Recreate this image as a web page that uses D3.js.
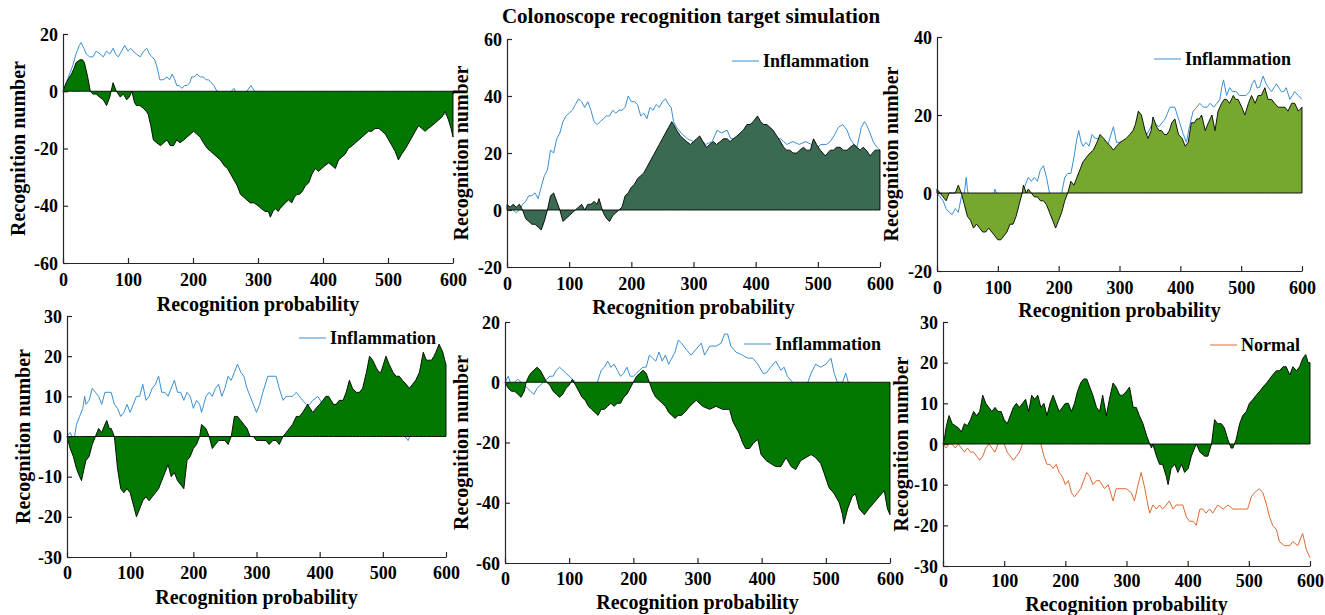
<!DOCTYPE html>
<html>
<head>
<meta charset="utf-8">
<script src="https://cdn.jsdelivr.net/npm/d3@7"></script>
<style>
body { margin: 0; background: #fff; }
svg { font-family: "Liberation Serif", "Times New Roman", serif; font-weight: bold; }
svg text { font-family: "Liberation Serif", "Times New Roman", serif; font-weight: bold; }
</style>
</head>
<body>
<svg id="chart" width="1325" height="615"></svg>
<script>
// values, [recognition probability, recognition number]
const p1Area = [[0,0],[5,3],[10,5],[13,6],[17,8],[20,10],[26,11],[30,11],[33,10],[38,5],[42,0],[46,-1],[51,-1],[56,-2],[62,-3],[67,-5],[72,-2],[77,3],[82,0],[88,-2],[93,-1],[98,-3],[102,-2],[106,0],[110,-4],[113,-5],[118,-5],[124,-6],[128,-7],[131,-8],[135,-12],[139,-17],[144,-18],[150,-19],[155,-18],[160,-17],[165,-19],[170,-19],[175,-17],[180,-18],[186,-17],[191,-16],[196,-15],[201,-14],[206,-15],[211,-16],[216,-18],[222,-20],[227,-21],[232,-22],[237,-23],[242,-24],[248,-26],[253,-27],[258,-29],[263,-31],[268,-33],[273,-36],[278,-37],[283,-38],[288,-39],[294,-39],[300,-40],[305,-41],[311,-42],[316,-42],[319,-44],[323,-42],[327,-41],[331,-42],[334,-41],[338,-40],[342,-39],[347,-38],[352,-39],[356,-37],[360,-36],[364,-36],[368,-35],[373,-33],[378,-32],[383,-29],[388,-27],[393,-28],[398,-27],[403,-26],[409,-25],[414,-26],[419,-27],[424,-24],[429,-23],[434,-22],[439,-20],[445,-19],[450,-18],[455,-17],[460,-16],[465,-15],[470,-14],[475,-14],[480,-13],[486,-13],[491,-14],[496,-15],[501,-17],[506,-19],[511,-21],[516,-24],[521,-22],[527,-20],[532,-18],[537,-16],[542,-14],[547,-12],[552,-13],[557,-14],[562,-13],[568,-12],[573,-11],[578,-10],[583,-9],[588,-7],[593,-10],[597,-13],[600,-16]]
const p1Line = [[0,0],[5,3],[10,6],[15,9],[20,13],[25,16],[28,17],[32,15],[36,13],[41,12],[46,12],[51,14],[57,13],[62,12],[67,14],[72,13],[77,15],[81,13],[85,12],[90,14],[95,16],[100,14],[104,15],[108,14],[113,13],[119,12],[124,14],[129,15],[133,13],[137,12],[141,11],[144,9],[147,6],[149,4],[154,4],[160,5],[164,4],[168,6],[172,4],[175,2],[179,2],[183,1],[187,2],[191,2],[195,3],[198,5],[202,5],[206,6],[211,5],[216,5],[220,4],[224,4],[228,3],[232,2],[237,0],[245,-1],[255,-1],[263,1],[270,-2],[280,-1],[289,2],[295,0],[305,-3],[320,-5],[340,-6],[360,-8],[380,-7],[400,-9],[420,-8],[440,-10],[460,-9],[480,-8],[500,-10],[520,-9],[540,-8],[560,-9],[580,-8],[590,-8],[600,-10]]

const p2Area = [[0,2],[5,1],[10,2],[15,1],[20,2],[25,0],[30,-3],[35,-4],[40,-5],[45,-5],[50,-6],[55,-7],[60,-4],[65,0],[70,5],[75,6],[80,3],[85,0],[90,-4],[95,-3],[100,-2],[105,-1],[110,0],[115,1],[120,2],[125,0],[130,2],[135,2],[140,3],[145,2],[148,4],[152,1],[155,-1],[160,-3],[165,-4],[170,-2],[175,-1],[180,0],[185,1],[190,5],[195,6],[200,8],[205,9],[210,11],[215,12],[220,13],[225,15],[230,17],[235,19],[240,21],[245,23],[250,25],[255,27],[260,29],[265,31],[268,30],[273,28],[279,26],[284,25],[289,24],[295,23],[300,24],[305,25],[310,26],[315,24],[321,22],[326,23],[332,24],[337,23],[343,24],[348,25],[354,25],[359,24],[364,25],[370,26],[375,27],[380,28],[386,30],[391,30],[396,31],[403,33],[408,31],[413,30],[418,30],[423,29],[428,28],[434,26],[440,24],[445,22],[450,21],[455,21],[460,20],[466,20],[471,21],[477,22],[482,21],[488,21],[493,25],[498,23],[504,21],[508,20],[512,19],[516,20],[520,21],[525,21],[530,22],[536,22],[541,21],[547,21],[552,22],[558,23],[563,22],[568,21],[573,22],[578,21],[584,19],[588,20],[592,21],[596,21],[600,21]]
const p2Line = [[0,1],[5,1],[10,0],[15,-1],[20,0],[25,2],[30,3],[35,5],[40,5],[45,6],[50,4],[55,8],[60,12],[65,14],[70,21],[75,20],[80,25],[85,27],[90,31],[95,33],[100,34],[105,35],[110,37],[115,39],[120,38],[125,36],[130,38],[135,35],[140,31],[145,30],[150,31],[155,32],[160,33],[165,33],[170,35],[175,34],[180,35],[185,35],[190,36],[195,40],[200,38],[205,38],[210,37],[215,33],[220,34],[225,32],[230,36],[235,35],[240,37],[245,36],[250,38],[255,39],[260,37],[264,36],[268,31],[273,29],[280,27],[290,25],[300,24],[310,25],[320,23],[330,24],[338,28],[345,27],[354,28],[360,25],[370,25],[380,27],[390,28],[400,30],[410,29],[420,27],[430,25],[440,25],[445,24],[450,23],[460,24],[470,23],[480,24],[490,23],[500,22],[505,23],[514,23],[520,24],[526,26],[533,29],[540,30],[547,28],[552,25],[558,23],[563,22],[570,29],[575,31],[578,30],[584,27],[589,24],[595,22],[600,21]]

const p3Area = [[0,1],[5,0],[10,-1],[15,-2],[20,0],[25,0],[30,0],[35,2],[40,0],[45,-3],[50,-6],[55,-7],[60,-9],[65,-8],[70,-9],[75,-10],[80,-10],[85,-9],[90,-10],[95,-11],[100,-12],[105,-12],[110,-11],[115,-10],[120,-8],[125,-8],[130,-6],[135,-3],[140,0],[142,2],[147,0],[150,1],[155,0],[160,-1],[165,-1],[170,-2],[175,-2],[180,-3],[185,-5],[190,-7],[195,-9],[200,-7],[205,-5],[210,-2],[215,0],[220,3],[225,2],[230,4],[235,6],[240,8],[245,9],[250,10],[257,11],[263,13],[268,15],[274,14],[279,13],[285,12],[290,11],[295,12],[301,13],[306,13.5],[311,14],[317,15],[322,16],[326,17.5],[331,21],[336,20],[342,16],[347,14],[352,16],[355,19.5],[361,17],[365,16],[369,16],[374,15],[378,15],[382,16],[386,18],[391,19],[397,15],[403,14],[408,12],[413,13],[418,18],[423,18],[427,19],[431,19],[435,20],[441,16],[446,18],[452,20],[457,16],[462,21],[468,23],[472,24],[476,24],[481,23],[487,25],[491,24],[495,24],[501,22],[506,20],[512,23],[517,25],[523,23],[528,25],[533,25],[539,27],[544,24],[550,24],[555,23],[561,22],[566,22],[572,22],[577,21],[583,23],[588,23],[594,21],[600,22]]
const p3Line = [[0,0],[5,-1],[10,-2],[15,-4],[20,-5],[25,-5.5],[30,-4],[35,-5],[40,-1],[45,0],[48,4],[50,1],[53,-2],[60,-4],[70,-5],[80,-6],[90,-3],[95,1],[98,0],[105,-4],[115,-5],[125,-3],[135,-1],[140,0],[145,2],[150,4],[155,3],[160,4],[165,3],[170,6],[175,7],[180,4],[185,0],[190,-2],[195,-3],[200,-3],[205,0],[210,4],[215,5],[220,5],[225,9],[230,14],[233,16],[237,13],[240,12],[245,13],[250,12],[255,15],[260,14],[265,14],[270,13],[280,12],[290,17],[295,13],[305,13],[315,14],[325,16],[335,18],[345,15],[355,18],[365,17],[375,19],[383,22],[391,22],[399,18],[405,15],[410,13],[415,17],[421,21],[427,22],[432,23],[438,22],[444,22],[449,23],[455,22],[460,23],[465,24],[468,27],[471,29],[476,25],[481,27],[486,26],[492,26],[497,25],[503,25],[508,25],[514,26],[518,28],[522,29],[526,27],[530,27],[536,30],[541,28],[545,27],[550,26],[554,27],[558,28],[562,27],[566,26],[570,26],[574,27],[580,24],[584,25],[588,26],[594,25],[600,24]]

const p4Area = [[0,0],[5,-3],[10,-5],[15,-8],[20,-10],[23,-11],[27,-8],[30,-6],[35,-5],[40,-2],[45,0],[50,2],[55,1],[60,3],[63,4],[67,2],[70,2],[75,0],[80,-8],[85,-13],[90,-14],[95,-13],[100,-14],[105,-17],[110,-20],[115,-18],[120,-16],[125,-15],[130,-16],[135,-15],[140,-14],[145,-13],[150,-11],[155,-9],[160,-7],[165,-10],[170,-9],[175,-11],[180,-12],[185,-13],[190,-6],[195,-5],[200,-3],[205,-2],[210,0],[213,3],[220,2],[225,0],[230,-3],[235,-2],[240,-1],[245,-1],[250,-1],[255,-2],[260,0],[265,5],[270,5],[275,4],[280,3],[285,2],[290,0],[295,0],[300,-1],[305,-1],[310,-1],[315,-1],[320,-2],[326,-1],[331,-1],[336,-2],[342,0],[347,1],[352,2],[357,3],[363,5],[368,5],[373,6],[377,7],[381,8],[385,7],[389,6],[394,7],[400,8],[405,9],[410,10],[414,10],[418,9],[422,8],[426,8],[431,9],[437,9],[442,11],[447,14],[452,12],[458,11],[463,11],[468,12],[474,16],[479,20],[484,19],[490,17],[494,16],[497,16],[501,18],[505,20],[510,18],[516,16],[521,15],[526,15],[531,14],[537,13],[542,12],[547,13],[552,14],[558,16],[564,21],[569,19],[573,19],[577,19],[581,20],[584,21],[589,23],[592,22],[595,21],[598,19],[600,18]]
const p4Line = [[0,0],[5,1],[8,0],[12,0],[15,3],[20,5],[25,7],[28,10],[30,8],[35,9],[40,12],[45,11],[50,10],[55,8],[60,11],[65,11],[70,11],[75,8],[80,7],[85,5],[90,6],[95,8],[100,6],[105,8],[110,10],[115,10],[120,13],[125,9],[130,10],[135,12],[140,13],[145,15],[150,11],[155,11],[160,10],[165,12],[170,14],[175,11],[180,11],[185,9],[190,11],[195,10],[200,7],[205,9],[210,8],[213,6],[220,10],[225,11],[230,10],[235,12],[240,13],[245,10],[250,12],[255,15],[260,14],[265,16],[270,18],[275,16],[280,15],[285,12],[290,10],[295,8],[300,6],[305,8],[310,11],[318,15],[326,15],[331,15],[336,12],[342,9],[347,10],[352,10],[357,10],[363,11],[368,10],[373,9],[379,8],[384,8],[389,9],[397,10],[405,8],[420,7],[440,6],[460,5],[480,6],[500,4],[520,2],[530,1],[540,-1],[545,1],[560,3],[580,5],[600,6]]

const p5Area = [[0,0],[5,-2],[10,-3],[15,-3],[20,-4],[25,-5],[30,-3],[33,0],[37,2],[40,3],[45,4],[50,5],[55,4],[60,2],[65,0],[70,-1],[75,-3],[80,-4],[85,-5],[90,-4],[95,-2],[100,-1],[105,1],[110,-1],[115,-3],[120,-5],[125,-6],[130,-8],[135,-9],[140,-10],[145,-11],[150,-9],[155,-9],[160,-8],[165,-7],[170,-8],[175,-7],[180,-7],[185,-5],[190,-4],[195,-2],[200,0],[205,2],[210,3],[215,4],[220,3],[225,0],[230,-3],[235,-5],[240,-6],[245,-7],[250,-8],[255,-10],[260,-11],[265,-12],[270,-11],[275,-11],[280,-10],[288,-8],[298,-6],[308,-8],[319,-9],[329,-8],[339,-9],[350,-9],[355,-13],[360,-15],[365,-17],[370,-20],[375,-22],[381,-22],[388,-20],[394,-19],[399,-24],[407,-26],[414,-27],[422,-28],[430,-28],[438,-25],[446,-28],[453,-29],[461,-26],[469,-25],[477,-24],[484,-25],[492,-27],[497,-30],[505,-35],[513,-37],[521,-40],[526,-44],[528,-47],[534,-42],[541,-38],[546,-37],[552,-42],[560,-44],[567,-42],[575,-40],[583,-38],[591,-36],[596,-42],[600,-44]]
const p5Line = [[0,0],[5,2],[10,-1],[15,0],[20,1],[25,0],[30,-1],[35,-2],[40,-3],[45,-4],[50,-2],[55,-1],[60,0],[65,1],[70,2],[75,2],[80,4],[85,5],[90,4],[95,3],[100,2],[105,1],[110,0],[120,-3],[130,-4],[140,-2],[144,0],[150,4],[155,5],[160,7],[165,5],[170,6],[175,4],[180,2],[185,3],[190,5],[195,2],[200,2],[205,3],[210,4],[215,5],[220,5],[225,9],[230,8],[235,7],[240,10],[245,7],[250,9],[255,6],[260,8],[265,10],[270,14],[275,13],[282,11],[290,9],[298,11],[306,13],[311,9],[319,12],[329,12],[337,13],[342,16],[347,16],[352,12],[360,10],[370,9],[378,8],[386,8],[394,6],[402,3],[407,3],[414,5],[422,7],[430,4],[435,5],[440,2],[448,0],[460,-3],[472,0],[477,3],[484,6],[492,5],[500,6],[508,8],[513,3],[518,0],[526,0],[531,3],[535,0],[550,-5],[570,-8],[600,-10]]

const p6Area = [[0,0],[3,2],[5,4],[8,6],[10,7],[15,5],[20,4.5],[25,4],[30,3],[35,5],[40,4.5],[45,6],[50,8],[55,7],[60,8],[65,12],[70,10],[75,9],[80,8],[85,9],[90,8],[95,8],[100,6],[105,5],[110,7],[115,9],[120,10],[125,9],[130,10],[135,11],[140,8],[145,12],[150,11],[155,12],[160,9],[165,10],[170,7],[175,10],[180,12],[185,10],[190,8],[195,9],[200,10],[205,10],[210,8],[215,10],[220,13],[225,15],[230,16],[235,16],[240,14],[245,12],[251,9],[256,8],[261,12],[267,7],[272,11],[278,15],[283,14],[289,12],[294,12],[300,13],[305,14],[311,9],[316,9],[321,7],[327,5],[333,2],[338,0],[341,-1],[343,0],[349,-3],[354,-5],[359,-5],[365,-8],[368,-10],[373,-6],[379,-5],[384,-7],[390,-5],[395,-7],[401,-6],[406,-3],[414,0],[420,-2],[428,-3],[433,-3],[439,0],[444,6],[449,5],[455,5],[460,4],[466,1],[471,-1],[474,-1],[479,1],[485,5],[490,7],[496,8],[501,10],[507,11],[512,12],[518,13],[523,14],[529,15],[534,16],[539,17],[545,18],[550,18],[556,19],[561,19],[567,17],[572,19],[578,18],[583,19],[588,21],[593,22],[597,20],[600,20]]
const p6Line = [[0,0],[5,-1],[10,0],[15,0],[20,-1],[25,0],[30,-1],[35,-2],[40,-1],[45,-2],[50,-2],[55,-3],[60,-4],[65,-3],[70,-1],[75,0],[80,-1],[85,-2],[90,0],[95,1],[100,0],[105,-2],[110,-3],[115,-4],[120,-3],[125,-2],[130,0],[140,2],[150,3],[160,0],[165,-3],[170,-5],[175,-5],[180,-6],[185,-5],[190,-7],[195,-8],[200,-10],[205,-9],[210,-12],[215,-13],[220,-12],[225,-11],[230,-9],[235,-7],[240,-8],[245,-10],[251,-9],[256,-9],[264,-11],[270,-10],[278,-14],[283,-11],[291,-11],[300,-11],[308,-12],[313,-14],[319,-10],[324,-7],[330,-11],[335,-15],[338,-17],[343,-15],[349,-16],[354,-15],[359,-16],[365,-15],[370,-14],[376,-16],[381,-15],[387,-15],[392,-15],[398,-18],[403,-19],[409,-19],[414,-20],[420,-16],[425,-16],[430,-17],[436,-16],[441,-17],[449,-15],[458,-16],[466,-15],[474,-16],[482,-16],[490,-16],[498,-16],[504,-13],[509,-12],[517,-11],[523,-12],[529,-15],[534,-18],[539,-20],[545,-21],[550,-24],[558,-25],[567,-25],[572,-24],[580,-25],[588,-22],[594,-26],[600,-28]]

const xTicks = [0, 100, 200, 300, 400, 500, 600]
const yTicks1 = [-60, -40, -20, 0, 20]
const yTicks2 = [-20, 0, 20, 40, 60]
const yTicks3 = [-20, 0, 20, 40]
const yTicks4 = [-30, -20, -10, 0, 10, 20, 30]
const yTicks5 = [-60, -40, -20, 0, 20]
const yTicks6 = [-30, -20, -10, 0, 10, 20, 30]

const title = 'Colonoscope recognition target simulation'
const xLabel = 'Recognition probability'
const yLabel = 'Recognition number'

const blue = '#3a8fd0'
const orange = '#df6a34'
const serif = '"Liberation Serif", "Times New Roman", serif'

const panels = [
    {l: 63, r: 453, t: 34, b: 263, yDom: [-60, 20], yTicks: yTicks1, fill: '#007800',
        area: p1Area, line: p1Line, color: blue, legend: null, yLabX: 18, tickY: 17, xLabY: 304},
    {l: 507, r: 880, t: 39, b: 267, yDom: [-20, 60], yTicks: yTicks2, fill: '#3b6a52',
        area: p2Area, line: p2Line, color: blue, legend: {name: 'Inflammation', x: 732, y: 61}, yLabX: 461, tickY: 17, xLabY: 307},
    {l: 937, r: 1302, t: 37, b: 271, yDom: [-20, 40], yTicks: yTicks3, fill: '#76a830',
        area: p3Area, line: p3Line, color: blue, legend: {name: 'Inflammation', x: 1154, y: 59}, yLabX: 891, tickY: 17, xLabY: 310},
    {l: 67, r: 446, t: 316, b: 557, yDom: [-30, 30], yTicks: yTicks4, fill: '#007800',
        area: p4Area, line: p4Line, color: blue, legend: {name: 'Inflammation', x: 299, y: 338}, yLabX: 23, tickY: 16, xLabY: 597},
    {l: 505, r: 890, t: 322, b: 563, yDom: [-60, 20], yTicks: yTicks5, fill: '#007800',
        area: p5Area, line: p5Line, color: blue, legend: {name: 'Inflammation', x: 744, y: 344}, yLabX: 461, tickY: 16, xLabY: 602},
    {l: 943, r: 1310, t: 322, b: 566, yDom: [-30, 30], yTicks: yTicks6, fill: '#007800',
        area: p6Area, line: p6Line, color: orange, legend: {name: 'Normal', x: 1210, y: 345}, yLabX: 901, tickY: 15, xLabY: 604}
]

const svg = d3.select('#chart')
const axisColor = '#262626'

svg.append('text')
    .attr('x', 691)
    .attr('y', 16)
    .attr('text-anchor', 'middle')
    .attr('dominant-baseline', 'central')
    .style('font-size', '21px')
    .attr('fill', '#000')
    .text(title)

panels.forEach(p => {
    const x = d3.scaleLinear().domain([0, 600]).range([p.l, p.r])
    const y = d3.scaleLinear().domain(p.yDom).range([p.b, p.t])
    const g = svg.append('g')

    const line = d3.line().x(d => x(d[0])).y(d => y(d[1]))
    const area = d3.area().x(d => x(d[0])).y0(y(0)).y1(d => y(d[1]))

    g.append('path')
        .attr('d', line(p.line))
        .attr('fill', 'none')
        .attr('stroke', p.color)
        .attr('stroke-width', 1)

    // legend background hides the line behind it, as in the figure
    if (p.legend) {
        const legW = 31 + p.legend.name.length * 8.9
        g.append('rect')
            .attr('x', p.legend.x - 4)
            .attr('y', p.legend.y - 10)
            .attr('width', legW + 6)
            .attr('height', 20)
            .attr('fill', '#fff')
    }

    g.append('path')
        .attr('d', area(p.area.concat([[600, 0]])))
        .attr('fill', p.fill)
        .attr('stroke', '#000')
        .attr('stroke-width', 0.9)
        .attr('stroke-linejoin', 'round')

    const plain = d => String(d)
    const xAxis = d3.axisBottom(x).tickValues(xTicks).tickFormat(plain).tickSizeInner(-5).tickSizeOuter(0).tickPadding(9)
    const yAxis = d3.axisLeft(y).tickValues(p.yTicks).tickFormat(plain).tickSizeInner(-5).tickSizeOuter(0).tickPadding(5)

    const gx = g.append('g')
        .attr('transform', `translate(0, ${p.b})`)
        .call(xAxis)
    const gy = g.append('g')
        .attr('transform', `translate(${p.l}, 0)`)
        .call(yAxis)

    ;[gx, gy].forEach(a => {
        a.attr('font-family', null).attr('font-size', null)
        a.select('.domain').attr('stroke', axisColor).attr('stroke-width', 1.2)
        a.selectAll('.tick line').attr('stroke', axisColor).attr('stroke-width', 1.2)
        a.selectAll('.tick text')
            .attr('fill', '#000')
            .style('font-family', serif)
            .style('font-weight', 'bold')
            .style('font-size', '18px')
    })
    gx.selectAll('.tick text').attr('dy', null).attr('y', p.tickY).attr('dominant-baseline', 'central')
    gy.selectAll('.tick text').attr('dy', null).attr('dominant-baseline', 'central')

    g.append('text')
        .attr('x', (p.l + p.r) / 2)
        .attr('y', p.xLabY)
        .attr('text-anchor', 'middle')
        .attr('dominant-baseline', 'central')
        .style('font-size', '20px')
        .text(xLabel)

    g.append('text')
        .attr('transform', `translate(${p.yLabX}, ${(p.t + p.b) / 2}) rotate(-90)`)
        .attr('text-anchor', 'middle')
        .attr('dominant-baseline', 'central')
        .style('font-size', '20px')
        .text(yLabel)

    if (p.legend) {
        const lg = p.legend
        g.append('line')
            .attr('x1', lg.x).attr('x2', lg.x + 27)
            .attr('y1', lg.y).attr('y2', lg.y)
            .attr('stroke', p.color)
            .attr('stroke-width', 1)
        g.append('text')
            .attr('x', lg.x + 31)
            .attr('y', lg.y)
            .attr('dominant-baseline', 'central')
            .style('font-size', '18px')
            .text(lg.name)
    }
})
</script>
</body>
</html>
